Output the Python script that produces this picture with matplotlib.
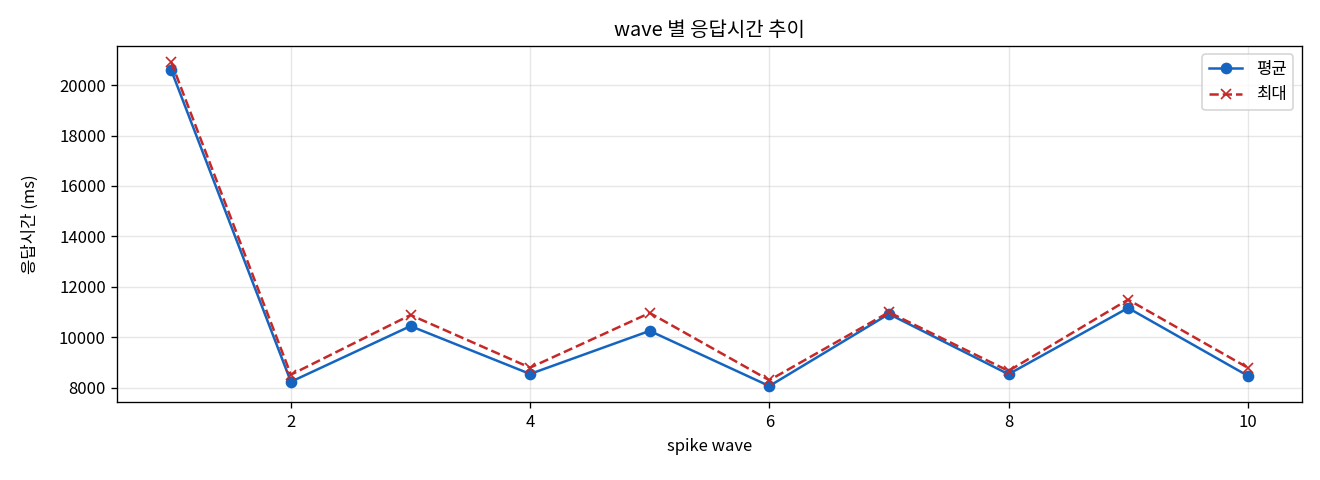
import matplotlib
matplotlib.use('Agg')
import matplotlib.pyplot as plt

plt.rcParams['font.family'] = ['Noto Sans CJK KR', 'DejaVu Sans']
plt.rcParams['axes.unicode_minus'] = False

# response time per spike wave
waves = [1, 2, 3, 4, 5, 6, 7, 8, 9, 10]
avg_ms = [20590, 8230, 10440, 8540, 10250, 8060, 10920, 8530, 11160, 8470]
max_ms = [20910, 8510, 10880, 8790, 10960, 8290, 10990, 8660, 11490, 8790]

fig, ax = plt.subplots(figsize=(11, 4), dpi=120)
ax.plot(waves, avg_ms, marker='o', color='#1565C0', label='평균')
ax.plot(waves, max_ms, marker='x', linestyle='--', color='#C62828', label='최대')
ax.set_title('wave 별 응답시간 추이')
ax.set_xlabel('spike wave')
ax.set_ylabel('응답시간 (ms)', labelpad=12)
ax.grid(True, alpha=0.3)
ax.legend()
fig.subplots_adjust(left=0.089, right=0.986, top=0.904, bottom=0.162)
fig.savefig('out.png')
